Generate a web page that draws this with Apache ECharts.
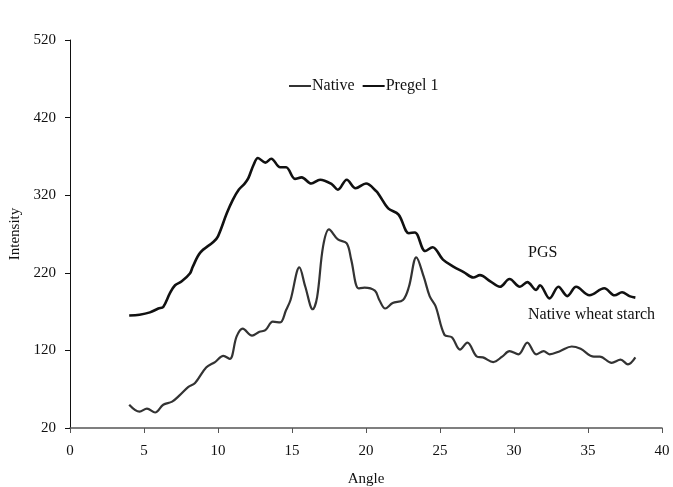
<!DOCTYPE html>
<html>
<head>
<meta charset="utf-8">
<script src="https://cdn.jsdelivr.net/npm/echarts@6/dist/echarts.min.js"></script>
<style>html,body{margin:0;padding:0;background:#fff}#c{width:673px;height:487px}</style>
</head>
<body>
<div id="c"></div>
<script>
const xTicks = [0, 5, 10, 15, 20, 25, 30, 35, 40];
const yTicks = [20, 120, 220, 320, 420, 520];

const pgsAngle = [4, 4.7, 5.4, 5.97, 6.3, 6.76, 7.1, 7.55, 8.1, 8.3, 8.8, 9.7, 10.0, 10.6, 11.0, 11.4, 11.8, 12.05, 12.4, 12.7, 13.2, 13.6, 14.2, 14.6, 15.2, 15.65, 16.3, 16.9, 17.7, 18.1, 18.7, 19.3, 20.0, 20.7, 20.9, 21.5, 22.2, 22.9, 23.3, 24.0, 24.5, 25.2, 25.9, 26.6, 27.25, 27.7, 28.4, 29.05, 29.7, 30.4, 30.9, 31.5, 31.75, 32.4, 33.0, 33.6, 34.2, 35.1, 36.1, 36.8, 37.3, 37.8, 38.2];
const pgsValue = [165, 166, 169, 174, 176, 194, 204, 209, 219, 228, 246, 260, 267, 297, 314, 327, 335, 342, 359, 368, 362, 367, 356, 356, 341, 343, 335, 340, 334, 327, 340, 329, 335, 325, 320, 303, 295, 271, 272, 248, 253, 237, 228, 221, 214, 217, 209, 202, 212, 202, 208, 198, 204, 187, 202, 190, 202, 191, 200, 191, 195, 190, 188];

const nativeAngle = [4, 4.7, 5.2, 5.75, 6.3, 6.9, 7.4, 8.0, 8.45, 9.2, 9.8, 10.36, 10.8, 11.26, 11.67, 12.3, 12.8, 13.2, 13.7, 14.2, 14.6, 14.9, 15.5, 15.9, 16.4, 16.7, 17.1, 17.5, 18.1, 18.7, 19.0, 19.5, 19.9, 20.6, 20.9, 21.3, 21.8, 22.5, 22.9, 23.4, 23.9, 24.3, 24.7, 25.3, 25.8, 26.35, 26.85, 27.5, 27.9, 28.6, 29.2, 29.7, 30.3, 30.9, 31.5, 32.0, 32.4, 33.1, 33.9, 34.5, 35.4, 35.8, 36.6, 37.2, 37.7, 38.2];
const nativeValue = [50, 41, 45, 40, 50, 54, 62, 73, 78, 98, 105, 113, 109, 138, 148, 139, 144, 146, 157, 156, 172, 185, 227, 202, 173, 189, 254, 276, 263, 258, 237, 200, 201, 197, 185, 174, 181, 185, 202, 240, 215, 190, 177, 140, 137, 121, 130, 112, 111, 105, 112, 119, 115, 130, 115, 119, 115, 119, 125, 122, 112, 112, 104, 108, 102, 111];

const zip = (a, b) => a.map((x, i) => [x, b[i]]);
const font = '"Liberation Serif", "Times New Roman", serif';

const chart = echarts.init(document.getElementById('c'), null, {renderer: 'canvas'});
chart.setOption({
  animation: false,
  backgroundColor: '#fff',
  textStyle: {fontFamily: font},
  grid: {left: 70, right: 11, top: 40, bottom: 59, containLabel: false, outerBoundsMode: 'none'},
  legend: {
    left: 284, top: 73,
    itemWidth: 22, itemHeight: 2, itemGap: 8,
    icon: 'rect',
    textStyle: {fontFamily: font, fontSize: 16, color: '#111', padding: [0, 0, 0, -4]},
    data: ['Native', 'Pregel 1']
  },
  xAxis: {
    type: 'value', min: 0, max: 40, interval: 5,
    name: 'Angle', nameLocation: 'middle', nameGap: 44,
    nameTextStyle: {fontFamily: font, fontSize: 15, color: '#111'},
    axisLine: {onZero: false, lineStyle: {color: '#555', width: 1.5}},
    axisTick: {show: true, length: 5, lineStyle: {color: '#555'}},
    axisLabel: {fontFamily: font, fontSize: 15, color: '#111', margin: 16,
      formatter: v => xTicks.includes(v) ? String(v) : ''},
    splitLine: {show: false}
  },
  yAxis: {
    type: 'value', min: 20, max: 520, interval: 100,
    name: 'Intensity', nameLocation: 'middle', nameGap: 41, nameRotate: 90,
    nameTextStyle: {fontFamily: font, fontSize: 15, color: '#111'},
    axisLine: {show: true, onZero: false, lineStyle: {color: '#111', width: 1}},
    axisTick: {show: true, length: 5, lineStyle: {color: '#111'}},
    axisLabel: {fontFamily: font, fontSize: 15, color: '#111', margin: 14,
      formatter: v => yTicks.includes(v) ? String(v) : ''},
    splitLine: {show: false}
  },
  series: [
    {
      name: 'Native', type: 'line', data: zip(nativeAngle, nativeValue),
      smooth: 0.35, showSymbol: false, symbol: 'none',
      lineStyle: {color: '#333', width: 2.2}, itemStyle: {color: '#333'}
    },
    {
      name: 'Pregel 1', type: 'line', data: zip(pgsAngle, pgsValue),
      smooth: 0.35, showSymbol: false, symbol: 'none',
      lineStyle: {color: '#111', width: 2.6}, itemStyle: {color: '#111'}
    }
  ],
  graphic: [
    {type: 'text', left: 528, top: 245, style: {text: 'PGS', font: '16px ' + font, fill: '#111'}},
    {type: 'text', left: 528, top: 307, style: {text: 'Native wheat starch', font: '16px ' + font, fill: '#111'}}
  ]
});
</script>
</body>
</html>
